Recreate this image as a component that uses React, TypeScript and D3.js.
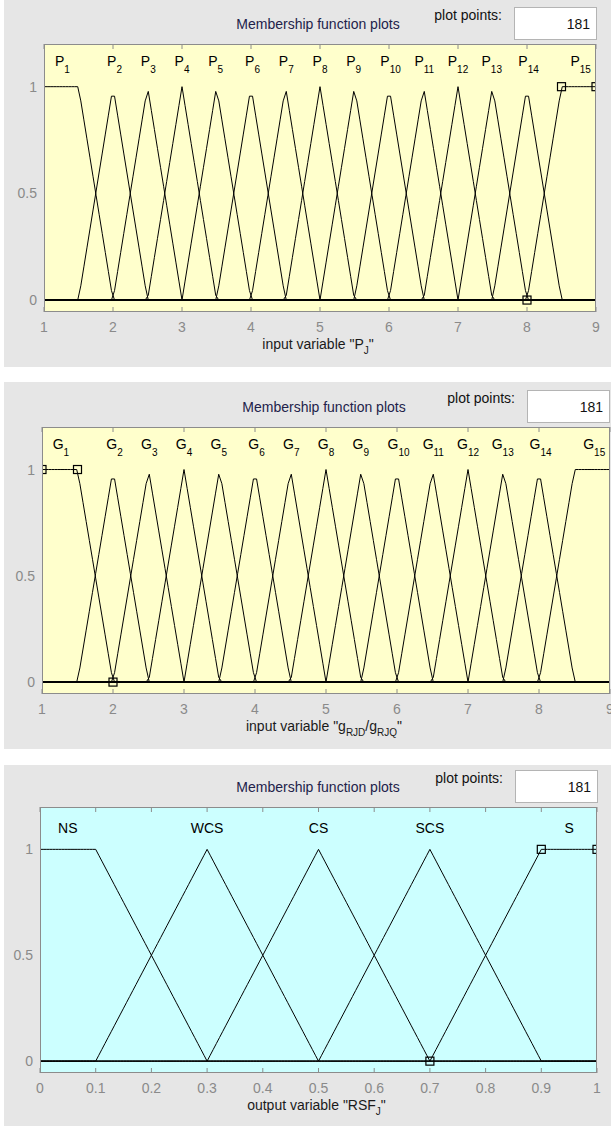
import React from "react";
import * as d3 from "d3";

const PLOT_POINTS = 181;

const P_SUBS = ["1", "2", "3", "4", "5", "6", "7", "8", "9", "10", "11", "12", "13", "14", "15"];
const P_PARAMS: number[][] = [
  [0.5, 1, 1.5, 2], [1.5, 2, 2.5], [2, 2.5, 3], [2.5, 3, 3.5], [3, 3.5, 4],
  [3.5, 4, 4.5], [4, 4.5, 5], [4.5, 5, 5.5], [5, 5.5, 6], [5.5, 6, 6.5],
  [6, 6.5, 7], [6.5, 7, 7.5], [7, 7.5, 8], [7.5, 8, 8.5], [8, 8.5, 9, 9.5],
];
const G_SUBS = ["1", "2", "3", "4", "5", "6", "7", "8", "9", "10", "11", "12", "13", "14", "15"];
const G_PARAMS: number[][] = [
  [0.5, 1, 1.5, 2], [1.5, 2, 2.5], [2, 2.5, 3], [2.5, 3, 3.5], [3, 3.5, 4],
  [3.5, 4, 4.5], [4, 4.5, 5], [4.5, 5, 5.5], [5, 5.5, 6], [5.5, 6, 6.5],
  [6, 6.5, 7], [6.5, 7, 7.5], [7, 7.5, 8], [7.5, 8, 8.5], [8, 8.5, 9, 9.5],
];
const RSF_NAMES = ["NS", "WCS", "CS", "SCS", "S"];
const RSF_PARAMS: number[][] = [
  [-0.1, 0, 0.1, 0.3], [0.1, 0.3, 0.5], [0.3, 0.5, 0.7], [0.5, 0.7, 0.9], [0.7, 0.9, 1, 1.1],
];
const P_RANGE: [number, number] = [1, 9];
const G_RANGE: [number, number] = [1, 9];
const RSF_RANGE: [number, number] = [0, 1];
const IO_TICKS = [1, 2, 3, 4, 5, 6, 7, 8, 9];
const RSF_TICKS = [0, 0.1, 0.2, 0.3, 0.4, 0.5, 0.6, 0.7, 0.8, 0.9, 1];
const Y_TICKS = [0, 0.5, 1];
const Y_LABELS = ["0", "0.5", "1"];

const FONT = "'Liberation Sans', Arial, Helvetica, sans-serif";

function evalMF(p: number[], x: number): number {
  if (p.length === 3) {
    const [a, b, c] = p;
    if (x <= a || x >= c) return 0;
    if (x <= b) return (x - a) / (b - a);
    return (c - x) / (c - b);
  }
  const [a, b, c, d] = p;
  const l = b === a ? (x >= a ? 1 : 0) : (x - a) / (b - a);
  const r = d === c ? (x <= d ? 1 : 0) : (d - x) / (d - c);
  return Math.max(0, Math.min(l, 1, r));
}

function vertexValues(p: number[]): number[] {
  if (p.length === 3) return [0, 1, 0];
  return [0, 1, 1, 0];
}

type MF = { main: string; sub?: string; params: number[] };

type Cfg = {
  id: string;
  bgTop: number;
  bgBottom: number;
  fx0: number;
  fx1: number;
  fy0: number;
  fy1: number;
  range: [number, number];
  ticks: number[];
  tickLabels: string[];
  fill: string;
  mfs: MF[];
  selected: number;
  boxRight: number;
  titleX: number;
  xlabel: React.ReactNode;
};

function Panel({ cfg }: { cfg: Cfg }) {
  const { fx0, fx1, fy0, fy1, range } = cfg;
  const xs = d3.scaleLinear().domain(range).range([fx0, fx1]);
  const ys = d3.scaleLinear().domain([-0.056, 1.2]).range([fy1, fy0]);
  const samples = d3.range(PLOT_POINTS).map(
    (i) => range[0] + (i * (range[1] - range[0])) / (PLOT_POINTS - 1)
  );
  const line = d3
    .line<[number, number]>()
    .x((d) => xs(d[0]))
    .y((d) => ys(d[1]));
  const clipId = "clip-" + cfg.id;
  const boxW = 83;
  const boxLeft = cfg.boxRight - boxW;
  const xlabelCenter = (fx0 + fx1) / 2;

  return (
    <g>
      <rect x={4} y={cfg.bgTop} width={607} height={cfg.bgBottom - cfg.bgTop} fill="#e6e6e6" />
      <defs>
        <clipPath id={clipId}>
          <rect x={fx0} y={fy0} width={fx1 - fx0} height={fy1 - fy0} />
        </clipPath>
      </defs>
      <rect x={fx0} y={fy0} width={fx1 - fx0} height={fy1 - fy0} fill={cfg.fill} />
      {/* title and plot points box */}
      <text x={cfg.titleX} y={fy0 - 15} textAnchor="middle" fontFamily={FONT} fontSize={14} fill="#22224a">
        Membership function plots
      </text>
      <text x={boxLeft - 12} y={fy0 - 24} textAnchor="end" fontFamily={FONT} fontSize={14} fill="#111">
        plot points:
      </text>
      <rect x={boxLeft + 0.5} y={fy0 - 36.5} width={boxW - 1} height={32} fill="#ffffff" stroke="#b4b4b4" strokeWidth={1} />
      <text x={cfg.boxRight - 7} y={fy0 - 15} textAnchor="end" fontFamily={FONT} fontSize={14} fill="#111">
        {String(PLOT_POINTS)}
      </text>
      {/* membership functions */}
      <g clipPath={`url(#${clipId})`}>
        {cfg.mfs.map((mf, i) => {
          const pts: [number, number][] = samples.map((x) => [x, evalMF(mf.params, x)]);
          return <path key={i} d={line(pts) || ""} fill="none" stroke="#000" strokeWidth={1} />;
        })}
        {(() => {
          const mf = cfg.mfs[cfg.selected];
          const vals = vertexValues(mf.params);
          return mf.params.map((p, j) => {
            if (p < range[0] - 1e-9 || p > range[1] + 1e-9) return null;
            return (
              <rect
                key={"m" + j}
                x={xs(p) - 4}
                y={ys(vals[j]) - 4}
                width={8}
                height={8}
                fill="none"
                stroke="#000"
                strokeWidth={1.2}
              />
            );
          });
        })()}
      </g>
      {/* MF labels */}
      {cfg.mfs.map((mf, i) => {
        const vals = samples.map((x) => evalMF(mf.params, x));
        const mx = d3.max(vals) as number;
        const idx = vals.map((v, k) => (v >= mx - 1e-6 ? k : -1)).filter((k) => k >= 0);
        const ci = Math.round(d3.mean(idx) as number);
        const lx = xs(samples[ci]);
        const ly = ys(1.1);
        if (mf.sub) {
          return (
            <text key={"l" + i} x={lx} y={ly + 1} textAnchor="middle" fontFamily={FONT} fontSize={14} fill="#000">
              <tspan>{mf.main}</tspan>
              <tspan dy={7} fontSize={10}>{mf.sub}</tspan>
            </text>
          );
        }
        return (
          <text key={"l" + i} x={lx} y={ly + 5} textAnchor="middle" fontFamily={FONT} fontSize={14} fill="#000">
            {mf.main}
          </text>
        );
      })}
      {/* frame */}
      <rect x={fx0 + 0.5} y={fy0 + 0.5} width={fx1 - fx0 - 1} height={fy1 - fy0 - 1} fill="none" stroke="#8c8c8c" strokeWidth={1} />
      {cfg.ticks.map((t, i) => (
        <g key={"t" + i}>
          <line x1={xs(t)} x2={xs(t)} y1={fy0} y2={fy0 + 5} stroke="#8c8c8c" strokeWidth={1} />
          <line x1={xs(t)} x2={xs(t)} y1={fy1} y2={fy1 - 5} stroke="#8c8c8c" strokeWidth={1} />
          <text x={xs(t)} y={fy1 + 20} textAnchor="middle" fontFamily={FONT} fontSize={14} fill="#8a8a8a">
            {cfg.tickLabels[i]}
          </text>
        </g>
      ))}
      {Y_TICKS.map((t, i) => (
        <text key={"y" + i} x={fx0 - 7} y={ys(t) + 5} textAnchor="end" fontFamily={FONT} fontSize={14} fill="#8a8a8a">
          {Y_LABELS[i]}
        </text>
      ))}
      <text x={xlabelCenter - 2} y={fy1 + 37} textAnchor="middle" fontFamily={FONT} fontSize={14} fill="#1a1a1a">
        {cfg.xlabel}
      </text>
    </g>
  );
}

export default function App() {
  const pMFs: MF[] = P_PARAMS.map((p, i) => ({ main: "P", sub: P_SUBS[i], params: p }));
  const gMFs: MF[] = G_PARAMS.map((p, i) => ({ main: "G", sub: G_SUBS[i], params: p }));
  const rMFs: MF[] = RSF_PARAMS.map((p, i) => ({ main: RSF_NAMES[i], params: p }));

  const panels: Cfg[] = [
    {
      id: "p",
      bgTop: -1,
      bgBottom: 367,
      fx0: 44,
      fx1: 596,
      fy0: 44,
      fy1: 312,
      range: P_RANGE,
      ticks: IO_TICKS,
      tickLabels: IO_TICKS.map((t) => String(t)),
      fill: "#ffffcc",
      mfs: pMFs,
      selected: 14,
      boxRight: 597,
      titleX: 318,
      xlabel: (
        <>
          <tspan>input variable "P</tspan>
          <tspan dy={5} fontSize={10}>J</tspan>
          <tspan dy={-5}>"</tspan>
        </>
      ),
    },
    {
      id: "g",
      bgTop: 382,
      bgBottom: 749,
      fx0: 42,
      fx1: 610,
      fy0: 427,
      fy1: 694,
      range: G_RANGE,
      ticks: IO_TICKS,
      tickLabels: IO_TICKS.map((t) => String(t)),
      fill: "#ffffcc",
      mfs: gMFs,
      selected: 0,
      boxRight: 610,
      titleX: 324,
      xlabel: (
        <>
          <tspan>input variable "g</tspan>
          <tspan dy={5} fontSize={10}>RJD</tspan>
          <tspan dy={-5}>/g</tspan>
          <tspan dy={5} fontSize={10}>RJQ</tspan>
          <tspan dy={-5}>"</tspan>
        </>
      ),
    },
    {
      id: "r",
      bgTop: 765,
      bgBottom: 1126,
      fx0: 40,
      fx1: 597,
      fy0: 807,
      fy1: 1073,
      range: RSF_RANGE,
      ticks: RSF_TICKS,
      tickLabels: RSF_TICKS.map((t) => String(t)),
      fill: "#ccffff",
      mfs: rMFs,
      selected: 4,
      boxRight: 598,
      titleX: 318,
      xlabel: (
        <>
          <tspan>output variable "RSF</tspan>
          <tspan dy={5} fontSize={10}>J</tspan>
          <tspan dy={-5}>"</tspan>
        </>
      ),
    },
  ];

  return (
    <div style={{ position: "absolute", left: 0, top: 0 }}>
      <svg width={611} height={1126} style={{ display: "block", background: "#ffffff" }}>
        {panels.map((c) => (
          <Panel key={c.id} cfg={c} />
        ))}
      </svg>
    </div>
  );
}
